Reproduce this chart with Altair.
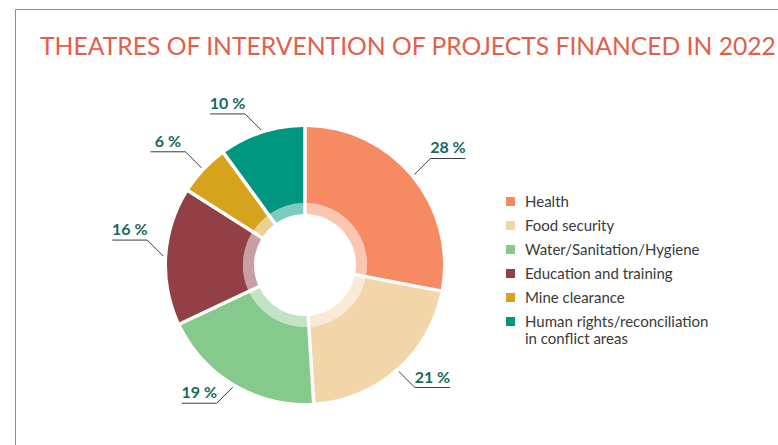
import altair as alt
import numpy as np
import pandas as pd

# ---- data ----
categories = [
    "Health",
    "Food security",
    "Water/Sanitation/Hygiene",
    "Education and training",
    "Mine clearance",
    "Human rights/reconciliation in conflict areas",
]
values = [28, 21, 19, 16, 6, 10]
pct_labels = ["28 %", "21 %", "19 %", "16 %", "6 %", "10 %"]
colors = ["#F68B63", "#F2D6A9", "#86C98C", "#923F45", "#D5A31C", "#00967F"]

TITLE = "THEATRES OF INTERVENTION OF PROJECTS FINANCED IN 2022"
TITLE_COLOR = "#E1604B"
LABEL_COLOR = "#17695C"
FONT = "Lato"

# ---- geometry (style) ----
R_OUT, R_IN, R_CORE = 138, 62, 51
R_LEAD, DIAG, SEG = 142, 16, 35

df = pd.DataFrame({"category": categories, "value": values,
                   "label": pct_labels, "idx": range(len(values))})

# leader-line geometry derived from the slice mid angles
cum = np.cumsum(values)
mid = (cum - np.array(values) / 2) / sum(values) * 2 * np.pi
rows, texts = [], []
for i, a in enumerate(mid):
    sx = 1 if np.sin(a) >= 0 else -1
    sy = 1 if np.cos(a) >= 0 else -1
    x0, y0 = R_LEAD * np.sin(a), R_LEAD * np.cos(a)
    x1, y1 = x0 + DIAG * sx, y0 + DIAG * sy
    x2, y2 = x1 + SEG * sx, y1
    for k, (xx, yy) in enumerate([(x0, y0), (x1, y1), (x2, y2)]):
        rows.append({"label": pct_labels[i], "step": k, "x": xx, "y": yy})
    texts.append({"label": pct_labels[i], "x": x1 + SEG / 2 * sx, "y": y1 + 5})
lines_df = pd.DataFrame(rows)
text_df = pd.DataFrame(texts)

W, H = 763, 436
xs = alt.Scale(domain=[-290, 473], nice=False, zero=False)
ys = alt.Scale(domain=[-180, 256], nice=False, zero=False)

color = alt.Color(
    "category:N",
    scale=alt.Scale(domain=categories, range=colors),
    sort=categories,
    legend=alt.Legend(
        title=None, orient="none", legendX=488, legendY=185,
        symbolType="square", symbolSize=81, symbolStrokeWidth=0,
        symbolOpacity=1, labelFont=FONT, labelFontSize=15,
        labelColor="#3A3A3A", labelOffset=7, rowPadding=8, padding=0,
        labelLimit=400,
        labelExpr="datum.label == 'Human rights/reconciliation in conflict areas' ? ['Human rights/reconciliation', 'in conflict areas'] : datum.label",
    ),
)

x0 = alt.X("cx:Q", scale=xs, axis=alt.Axis(orient="top", labels=False, ticks=False, grid=False,
                                             title=None, domainColor="#E46A57", domainWidth=1))
y0 = alt.Y("cy:Q", scale=ys, axis=alt.Axis(orient="left", labels=False, ticks=False, grid=False,
                                             title=None, domainColor="#E46A57", domainWidth=1))

base = alt.Chart(df).transform_calculate(cx="0", cy="0")

solid = base.mark_arc(innerRadius=R_IN, outerRadius=R_OUT, padAngle=0.023).encode(
    theta=alt.Theta("value:Q", stack=True),
    order=alt.Order("idx:Q"),
    color=color,
    x=x0, y=y0,
)
core = base.mark_arc(innerRadius=R_CORE, outerRadius=R_IN, padAngle=0.043, opacity=0.5).encode(
    theta=alt.Theta("value:Q", stack=True),
    order=alt.Order("idx:Q"),
    color=color,
    x=alt.X("cx:Q", scale=xs), y=alt.Y("cy:Q", scale=ys),
)

leaders = alt.Chart(lines_df).mark_line(color="#3C3C3C", strokeWidth=1).encode(
    x=alt.X("x:Q", scale=xs), y=alt.Y("y:Q", scale=ys),
    detail="label:N", order="step:Q",
)

texts_l = alt.Chart(text_df).mark_text(
    font=FONT, fontSize=16, fontWeight="bold", color=LABEL_COLOR,
    align="center", baseline="alphabetic",
).encode(x=alt.X("x:Q", scale=xs), y=alt.Y("y:Q", scale=ys), text="label:N")

chart = alt.layer(solid, core, leaders, texts_l).properties(
    width=W, height=H,
    autosize=alt.AutoSizeParams(type="none"),
    padding={"left": 15, "top": 9, "right": 0, "bottom": 0},
    title=alt.TitleParams(
        text=TITLE, anchor="start", frame="group", orient="top",
        offset=0, dx=25, dy=71, baseline="alphabetic",
        font=FONT, fontSize=24.7, fontWeight="normal", color=TITLE_COLOR,
    ),
).configure_view(stroke=None).configure(background="white")

chart.save("out.html", embed_options={"renderer": "svg", "actions": False})
